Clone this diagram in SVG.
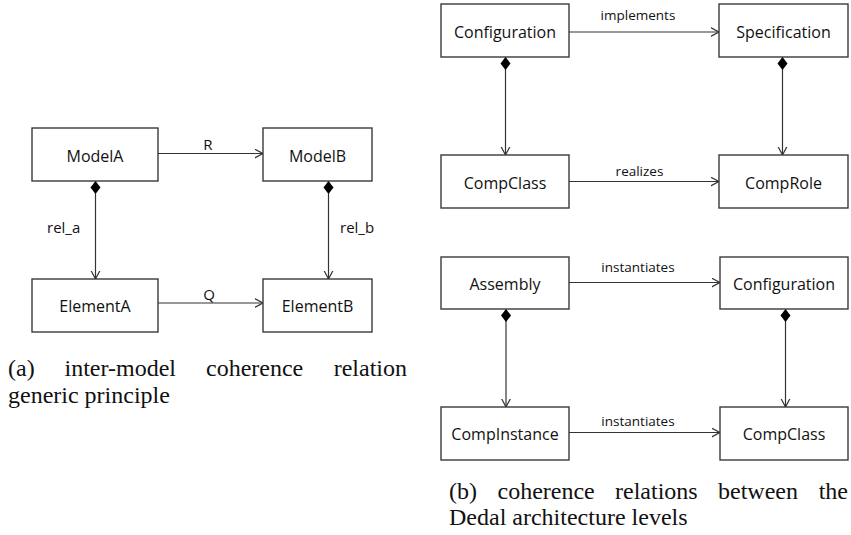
<svg xmlns="http://www.w3.org/2000/svg" width="851" height="535" viewBox="0 0 851 535">
<style>
.box{fill:#ffffff;stroke:#3a3a3a;stroke-width:1.4}
.lbl{font-family:"Open Sans","Liberation Sans",sans-serif;font-size:16px;fill:#111;text-anchor:middle}
.elbl{font-family:"Open Sans","Liberation Sans",sans-serif;font-size:15px;fill:#111}
.elbl2{font-family:"Open Sans","Liberation Sans",sans-serif;font-size:13.5px;fill:#111;text-anchor:middle}
.edge{fill:none;stroke:#333;stroke-width:1.2}
.arr{marker-end:url(#open)}
.comp{marker-start:url(#dia);marker-end:url(#open)}
.cap{font-family:"Liberation Serif","DejaVu Serif",serif;font-size:24px;fill:#111}
</style>
<defs>
<marker id="open" markerUnits="userSpaceOnUse" markerWidth="12" markerHeight="12" refX="8.5" refY="5" orient="auto">
<path d="M0,0.5 L8.5,5 L0,9.5" fill="none" stroke="#333" stroke-width="1.2"/>
</marker>
<marker id="dia" markerUnits="userSpaceOnUse" markerWidth="14" markerHeight="12" refX="0" refY="5" orient="auto">
<path d="M0,5 L6.5,0 L13,5 L6.5,10 Z" fill="#000"/>
</marker>
</defs>

<g id="connectors">
<line class="edge arr" x1="158" y1="153.5" x2="263" y2="153.5"/>
<line class="edge arr" x1="158" y1="303" x2="263" y2="303"/>
<line class="edge comp" x1="95.5" y1="181" x2="95.5" y2="279"/>
<line class="edge comp" x1="328.5" y1="181" x2="328.5" y2="279"/>
<text class="elbl" x="208" y="150" text-anchor="middle">R</text>
<text class="elbl" x="209" y="300" text-anchor="middle">Q</text>
<text class="elbl" x="47" y="233">rel_a</text>
<text class="elbl" x="340" y="233">rel_b</text>

<line class="edge arr" x1="569" y1="32" x2="719" y2="32"/>
<line class="edge arr" x1="569" y1="181.5" x2="719" y2="181.5"/>
<line class="edge comp" x1="505.5" y1="57" x2="505.5" y2="155"/>
<line class="edge comp" x1="782.5" y1="57" x2="782.5" y2="155"/>
<text class="elbl2" x="638" y="20">implements</text>
<text class="elbl2" x="639.5" y="176">realizes</text>

<line class="edge arr" x1="569" y1="282.5" x2="720" y2="282.5"/>
<line class="edge arr" x1="569" y1="432.5" x2="720" y2="432.5"/>
<line class="edge comp" x1="506" y1="309" x2="506" y2="407"/>
<line class="edge comp" x1="785.5" y1="309" x2="785.5" y2="407"/>
<text class="elbl2" x="638" y="272">instantiates</text>
<text class="elbl2" x="638" y="426">instantiates</text>
</g>

<g id="ModelA"><rect class="box" x="32" y="128" width="126" height="53"/><text class="lbl" x="95" y="162">ModelA</text></g>
<g id="ModelB"><rect class="box" x="263" y="128" width="109" height="53"/><text class="lbl" x="317.5" y="162">ModelB</text></g>
<g id="ElementA"><rect class="box" x="32" y="279" width="126" height="53"/><text class="lbl" x="95" y="311.5">ElementA</text></g>
<g id="ElementB"><rect class="box" x="263" y="279" width="109" height="53"/><text class="lbl" x="317.5" y="311.5">ElementB</text></g>

<g id="Configuration1"><rect class="box" x="441" y="4" width="128" height="53"/><text class="lbl" x="505" y="37.5">Configuration</text></g>
<g id="Specification"><rect class="box" x="719" y="4" width="129" height="53"/><text class="lbl" x="783.5" y="37.5">Specification</text></g>
<g id="CompClass1"><rect class="box" x="441" y="155" width="128" height="53"/><text class="lbl" x="505" y="188.5">CompClass</text></g>
<g id="CompRole"><rect class="box" x="719" y="155" width="129" height="53"/><text class="lbl" x="783.5" y="188.5">CompRole</text></g>

<g id="Assembly"><rect class="box" x="441" y="257" width="128" height="52"/><text class="lbl" x="505" y="289.5">Assembly</text></g>
<g id="Configuration2"><rect class="box" x="720" y="257" width="128" height="52"/><text class="lbl" x="784" y="289.5">Configuration</text></g>
<g id="CompInstance"><rect class="box" x="441" y="407" width="128" height="53"/><text class="lbl" x="505" y="440">CompInstance</text></g>
<g id="CompClass2"><rect class="box" x="720" y="407" width="128" height="53"/><text class="lbl" x="784" y="440">CompClass</text></g>

<g id="caption-a">
<text class="cap" x="8" y="376">(a)</text>
<text class="cap" x="64.5" y="376">inter-model</text>
<text class="cap" x="206" y="376">coherence</text>
<text class="cap" x="407" y="376" text-anchor="end">relation</text>
<text class="cap" x="8" y="403">generic principle</text>
</g>
<g id="caption-b">
<text class="cap" x="449" y="499">(b)</text>
<text class="cap" x="497.5" y="499">coherence</text>
<text class="cap" x="615" y="499">relations</text>
<text class="cap" x="718" y="499">between</text>
<text class="cap" x="848" y="499" text-anchor="end">the</text>
<text class="cap" x="449" y="525">Dedal architecture levels</text>
</g>
</svg>
